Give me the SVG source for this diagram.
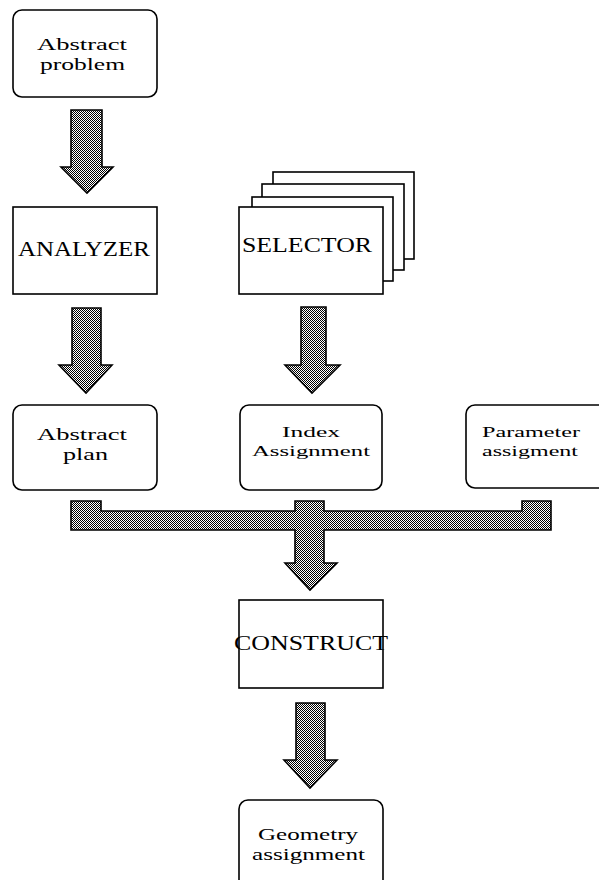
<svg xmlns="http://www.w3.org/2000/svg" width="599" height="880" viewBox="0 0 599 880">
<style>
.box{fill:#fff;stroke:#000;stroke-width:1.6}
.arr{fill:url(#chk);stroke:#000;stroke-width:1.6;stroke-linejoin:miter}
.t{font-family:"Liberation Serif","DejaVu Serif",serif;font-size:17px;fill:#000}
.s{font-family:"Liberation Serif","DejaVu Serif",serif;font-size:15px;fill:#000}
.c{font-family:"Liberation Serif","DejaVu Serif",serif;font-size:20px;fill:#000}
</style>
<defs>
<pattern id="chk" width="2" height="2" patternUnits="userSpaceOnUse">
<rect width="2" height="2" fill="#fff"/>
<rect width="1" height="1" fill="#000"/>
<rect x="1" y="1" width="1" height="1" fill="#000"/>
</pattern>
</defs>
<rect width="599" height="880" fill="#fff"/>
<g id="abstract-problem">
<rect class="box" x="13" y="10" width="144" height="87" rx="9"/>
<text class="t" x="37" y="50" textLength="90" lengthAdjust="spacingAndGlyphs">Abstract</text>
<text class="t" x="40" y="70" textLength="85" lengthAdjust="spacingAndGlyphs">problem</text>
</g>
<g id="analyzer">
<rect class="box" x="13" y="207" width="144" height="87"/>
<text class="c" x="18" y="256" textLength="132" lengthAdjust="spacingAndGlyphs">ANALYZER</text>
</g>
<g id="selector">
<rect class="box" x="273" y="172" width="141" height="87"/>
<rect class="box" x="262" y="184" width="142" height="86"/>
<rect class="box" x="252" y="197" width="141" height="84"/>
<rect class="box" x="239" y="207" width="144" height="87"/>
<text class="c" x="242" y="252" textLength="130" lengthAdjust="spacingAndGlyphs">SELECTOR</text>
</g>
<g id="abstract-plan">
<rect class="box" x="13" y="405" width="144" height="85" rx="9"/>
<text class="t" x="37" y="440" textLength="90" lengthAdjust="spacingAndGlyphs">Abstract</text>
<text class="t" x="63" y="460" textLength="45" lengthAdjust="spacingAndGlyphs">plan</text>
</g>
<g id="index-assignment">
<rect class="box" x="240" y="405" width="142" height="85" rx="9"/>
<text class="s" x="282" y="437" textLength="58" lengthAdjust="spacingAndGlyphs">Index</text>
<text class="s" x="252" y="456" textLength="118" lengthAdjust="spacingAndGlyphs">Assignment</text>
</g>
<g id="parameter-assigment">
<rect class="box" x="466" y="405" width="150" height="83" rx="9"/>
<text class="s" x="482" y="437" textLength="98" lengthAdjust="spacingAndGlyphs">Parameter</text>
<text class="s" x="482" y="456" textLength="96" lengthAdjust="spacingAndGlyphs">assigment</text>
</g>
<g id="construct">
<rect class="box" x="239" y="600" width="144" height="88"/>
<text class="c" x="234" y="650" textLength="154" lengthAdjust="spacingAndGlyphs">CONSTRUCT</text>
</g>
<g id="geometry-assignment">
<rect class="box" x="239" y="800" width="144" height="100" rx="9"/>
<text class="t" x="258" y="840" textLength="100" lengthAdjust="spacingAndGlyphs">Geometry</text>
<text class="t" x="252" y="860" textLength="113" lengthAdjust="spacingAndGlyphs">assignment</text>
</g>
<g id="connectors">
<path class="arr" d="M71,110 H102 V167 H113 L87,193 L61,167 H71 Z"/>
<path class="arr" d="M72,308 H101 V365 H112 L86,393 L59,365 H72 Z"/>
<path class="arr" d="M301,307 H326 V365 H340 L312,393 L285,365 H301 Z"/>
<path class="arr" d="M71,501 H101 V511 H295 V501 H324 V511 H522 V501 H551 V530 H324 V563 H337 L310,590 L285,563 H295 V530 H71 Z"/>
<path class="arr" d="M296,703 H325 V760 H337 L310,788 L284,760 H296 Z"/>
</g>
</svg>
